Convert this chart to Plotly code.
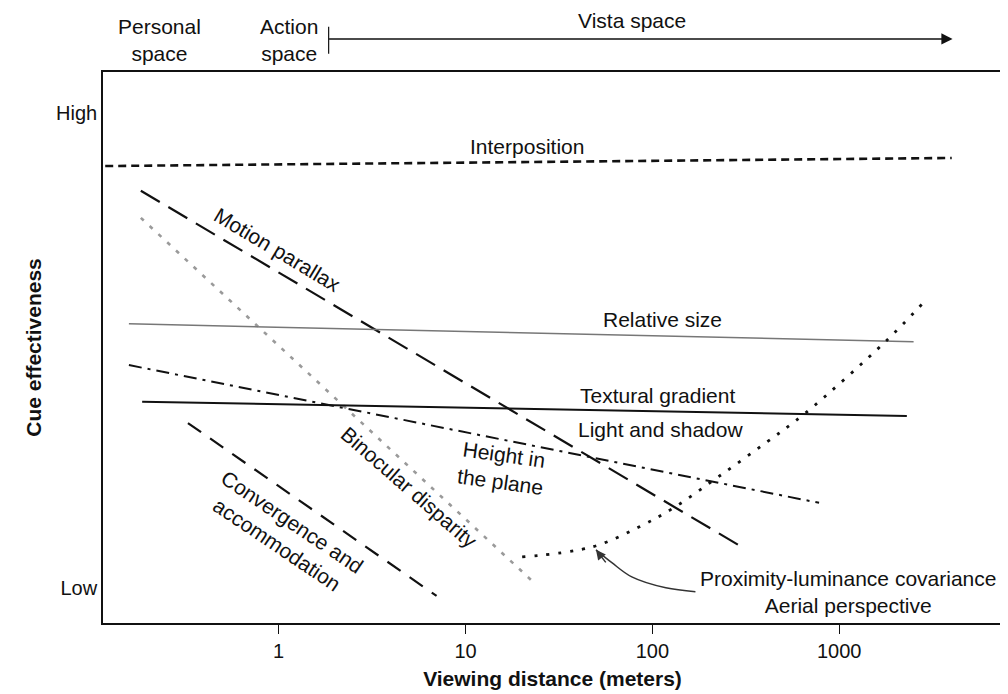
import math
import plotly.graph_objects as go

# ---------------- data (viewing distance in meters, cue effectiveness 0=Low..1=High)
interposition_x = [0.118, 4000]
interposition_y = [0.888, 0.905]

motion_x = [0.183, 307]
motion_y = [0.836, 0.084]

binocular_x = [0.183, 24]
binocular_y = [0.779, 0.006]

relsize_x = [0.158, 2500]
relsize_y = [0.556, 0.518]

textural_x = [0.186, 2300]
textural_y = [0.392, 0.362]

height_x = [0.158, 780]
height_y = [0.469, 0.179]

converg_x = [0.327, 7.0]
converg_y = [0.347, -0.017]

aerial_x = [20.1, 47.5, 84.6, 133, 226, 403, 659, 1762, 2812]
aerial_y = [0.065, 0.086, 0.128, 0.171, 0.234, 0.305, 0.368, 0.518, 0.600]

pointer_x = [170, 118, 77.6, 60.7, 49.9]
pointer_y = [-0.008, 0.0, 0.023, 0.053, 0.080]

tick_vals = [1, 10, 100, 1000]
tick_text = ["1", "10", "100", "1000"]
level_vals = [0, 1]
level_text = ["Low", "High"]

FONT = "Liberation Sans, Arial, Helvetica, sans-serif"
LBL = 21

fig = go.Figure()

def add_line(x, y, color, width, dash, shape="linear"):
    fig.add_trace(go.Scatter(x=x, y=y, mode="lines",
                             line=dict(color=color, width=width, dash=dash, shape=shape),
                             hoverinfo="skip", showlegend=False))

add_line(interposition_x, interposition_y, "#111", 2.6, "8px,5px")
add_line(motion_x, motion_y, "#111", 2.2, "22px,10px")
add_line(binocular_x, binocular_y, "#9a9a9a", 2.6, "4px,8px")
add_line(relsize_x, relsize_y, "#777", 1.5, "solid")
add_line(textural_x, textural_y, "#111", 2.0, "solid")
add_line(height_x, height_y, "#111", 2.0, "13px,6px,3px,6px")
add_line(converg_x, converg_y, "#111", 2.2, "16px,11px")
add_line(aerial_x, aerial_y, "#111", 2.8, "3px,9px", shape="spline")
add_line(pointer_x, pointer_y, "#333", 1.5, "solid", shape="spline")

def lx(v):
    return math.log10(v)

ann = []
def label(text, xm, y, angle=0, size=LBL, align="center"):
    ann.append(dict(x=lx(xm), y=y, xref="x", yref="y", text=text, showarrow=False,
                    textangle=angle, align=align, xanchor="center", yanchor="middle",
                    font=dict(family=FONT, size=size, color="#111")))

label("Interposition", 21.3, 0.930)
label("Motion parallax", 0.98, 0.712, angle=31)
label("Binocular disparity", 5.0, 0.211, angle=41)
label("Convergence and<br>accommodation", 1.077, 0.116, angle=34)
label("Height in<br>the plane", 15.7, 0.253, angle=8)
label("Relative size", 113.8, 0.566)
label("Textural gradient", 106.9, 0.404)
label("Light and shadow", 110.9, 0.333)
label("Proximity-luminance covariance<br>Aerial perspective", 1119, -0.008)

# arrowhead of the pointer
ann.append(dict(x=lx(pointer_x[-1]), y=pointer_y[-1], xref="x", yref="y",
                ax=11, ay=14, axref="pixel", ayref="pixel", text="", showarrow=True,
                arrowhead=2, arrowsize=1.3, arrowwidth=1.5, arrowcolor="#333"))

# top space labels
top_font = dict(family=FONT, size=LBL, color="#111")
ann.append(dict(x=0.063, y=1.058, xref="paper", yref="paper", text="Personal<br>space",
                showarrow=False, font=top_font, xanchor="center", yanchor="middle"))
ann.append(dict(x=0.207, y=1.058, xref="paper", yref="paper", text="Action<br>space",
                showarrow=False, font=top_font, xanchor="center", yanchor="middle"))
ann.append(dict(x=0.588, y=1.094, xref="paper", yref="paper", text="Vista space",
                showarrow=False, font=top_font, xanchor="center", yanchor="middle"))
# vista arrow
ann.append(dict(x=0.945, y=1.060, xref="paper", yref="paper", ax=-625, ay=0,
                axref="pixel", ayref="pixel", text="", showarrow=True,
                arrowhead=2, arrowsize=1.4, arrowwidth=1.6, arrowcolor="#111"))

fig.add_shape(type="line", xref="paper", yref="paper", x0=0.251, x1=0.251,
              y0=1.033, y1=1.082, line=dict(color="#111", width=1.2))

fig.update_layout(
    width=1000, height=686,
    margin=dict(l=95, r=4, t=64, b=71),
    paper_bgcolor="white", plot_bgcolor="white",
    annotations=ann,
    font=dict(family=FONT, size=LBL, color="#111"),
)
fig.update_xaxes(type="log", range=[-0.94, 3.871], tickvals=tick_vals, ticktext=tick_text,
                 ticks="outside", ticklen=9, tickcolor="#111", tickwidth=1.2,
                 showline=True, linecolor="#111", linewidth=1.6, mirror=True,
                 showgrid=False, zeroline=False,
                 tickfont=dict(family=FONT, size=20, color="#111"),
                 title=dict(text="<b>Viewing distance (meters)</b>", standoff=11,
                            font=dict(family=FONT, size=21, color="#111")))
fig.update_yaxes(range=[-0.074, 1.086], tickvals=level_vals, ticktext=level_text,
                 ticks="", showline=True, linecolor="#111", linewidth=1.6, mirror=True,
                 showgrid=False, zeroline=False,
                 tickfont=dict(family=FONT, size=20, color="#111"),
                 title=dict(text="<b>Cue effectiveness</b>", standoff=9,
                            font=dict(family=FONT, size=21, color="#111")))

fig.write_html("out.html")
